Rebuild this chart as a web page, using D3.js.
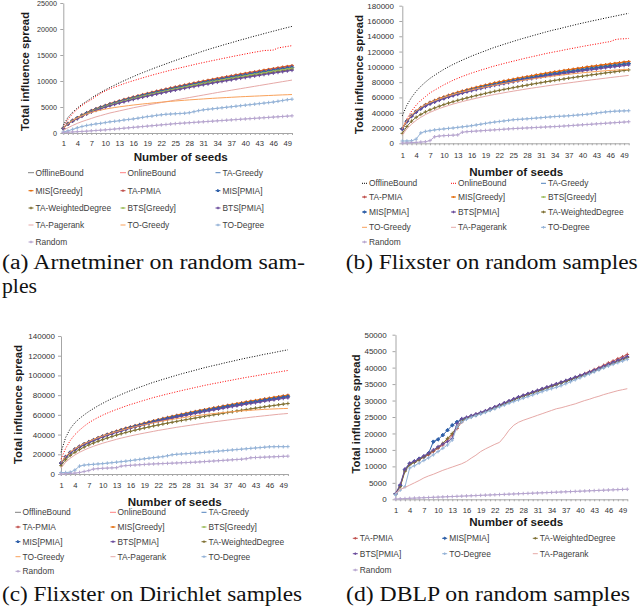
<!DOCTYPE html>
<html><head><meta charset="utf-8">
<script src="https://cdn.jsdelivr.net/npm/d3@7"></script>
<style>body{margin:0;background:#fff}svg{display:block}
.cap{font-family:"Liberation Serif","DejaVu Serif",serif;}</style>
</head><body>
<svg id="chart" width="640" height="607"></svg>
<script>
// ---------- categories & ticks ----------
const seeds = d3.range(1, 51);
const xTickLabels = [1,4,7,10,13,16,19,22,25,28,31,34,37,40,43,46,49];
const yTicksA = [0,5000,10000,15000,20000,25000];
const yTicksB = [0,20000,40000,60000,80000,100000,120000,140000,160000,180000];
const yTicksC = [0,20000,40000,60000,80000,100000,120000,140000];
const yTicksD = [0,5000,10000,15000,20000,25000,30000,35000,40000,45000,50000];
const captions = ["(a) Arnetminer on random sam-", "ples", "(b) Flixster on random samples", "(c) Flixster on Dirichlet samples", "(d) DBLP on random samples"];
const legendOrderA = ["OfflineBound","OnlineBound","TA-Greedy","MIS[Greedy]","TA-PMIA","MIS[PMIA]","TA-WeightedDegree","BTS[Greedy]","BTS[PMIA]","TA-Pagerank","TO-Greedy","TO-Degree","Random"];
const legendOrderBC = ["OfflineBound","OnlineBound","TA-Greedy","TA-PMIA","MIS[Greedy]","BTS[Greedy]","MIS[PMIA]","BTS[PMIA]","TA-WeightedDegree","TO-Greedy","TA-Pagerank","TO-Degree","Random"];
const legendOrderD = ["TA-PMIA","MIS[PMIA]","TA-WeightedDegree","BTS[PMIA]","TO-Degree","TA-Pagerank","Random"];

// ---------- (a) Arnetminer ----------
const a_OfflineBound = [1500,3000,4000,4800,5500,6100,6700,7300,7800,8300,8750,9200,9650,10050,10450,10850,11250,11600,11950,12300,12650,12970,13300,13630,13950,14260,14570,14870,15160,15450,15760,16050,16320,16580,16850,17120,17360,17630,17900,18120,18390,18640,18860,19110,19350,19580,19820,20050,20280,20500];
const a_OnlineBound = [1200,2600,3700,4600,5300,5900,6400,7050,7600,8100,8500,8840,9160,9480,9780,10060,10330,10600,10870,11120,11370,11610,11840,12080,12300,12520,12730,12940,13150,13360,13540,13740,13930,14110,14300,14480,14670,14850,15020,15200,15370,15540,15690,15860,15900,15950,16350,16500,16650,16800];
const a_TAGreedy = [900,1800,2400,2900,3400,3850,4250,4600,4930,5230,5550,5810,6080,6340,6580,6810,7050,7270,7480,7700,7920,8110,8310,8520,8710,8900,9090,9270,9450,9630,9800,9980,10150,10320,10480,10650,10800,10970,11130,11270,11440,11590,11730,11880,12040,12180,12330,12470,12610,12750];
const a_MISGreedy = [920,1840,2450,2960,3470,3930,4340,4690,5030,5330,5660,5930,6200,6470,6710,6950,7190,7420,7630,7850,8080,8270,8480,8690,8880,9080,9270,9460,9640,9820,10000,10180,10350,10530,10690,10860,11020,11190,11350,11500,11670,11820,11960,12120,12280,12420,12580,12720,12860,13000];
const a_TAPMIA = [910,1820,2430,2930,3440,3900,4300,4660,4990,5290,5620,5880,6150,6420,6660,6890,7130,7360,7570,7790,8020,8210,8410,8620,8810,9010,9200,9380,9560,9750,9920,10100,10270,10440,10610,10780,10930,11100,11260,11410,11580,11730,11870,12020,12180,12330,12480,12620,12760,12900];
const a_MISPMIA = [890,1780,2370,2870,3360,3800,4200,4540,4870,5170,5480,5740,6010,6260,6500,6730,6970,7180,7390,7610,7820,8010,8210,8420,8610,8790,8980,9160,9340,9510,9680,9860,10030,10200,10350,10520,10670,10840,11000,11130,11300,11450,11590,11740,11900,12030,12180,12320,12460,12600];
const a_TAWeightedDegree = [860,1730,2300,2780,3260,3700,4080,4420,4730,5020,5330,5580,5840,6090,6320,6540,6770,6980,7180,7390,7600,7790,7980,8180,8360,8540,8730,8900,9070,9240,9410,9580,9740,9910,10060,10220,10370,10530,10680,10820,10980,11130,11260,11400,11560,11690,11840,11970,12110,12250];
const a_BTSGreedy = [880,1760,2340,2830,3320,3760,4150,4490,4810,5100,5420,5670,5930,6190,6420,6650,6880,7100,7300,7520,7730,7920,8110,8320,8500,8690,8870,9050,9220,9400,9560,9740,9910,10070,10230,10390,10540,10710,10860,11000,11170,11310,11450,11590,11750,11890,12030,12170,12310,12450];
const a_BTSPMIA = [850,1700,2270,2740,3210,3640,4020,4350,4660,4940,5240,5490,5750,5990,6220,6440,6660,6870,7070,7280,7480,7660,7850,8050,8230,8410,8590,8760,8930,9100,9260,9430,9590,9750,9900,10060,10210,10370,10520,10650,10810,10950,11080,11230,11380,11510,11650,11780,11920,12050];
const a_TAPagerank = [500,1000,1450,1850,2200,2500,2800,3100,3350,3600,3850,4050,4250,4450,4650,4850,5030,5200,5370,5540,5700,5860,6020,6180,6340,6500,6660,6820,6980,7140,7300,7460,7620,7780,7930,8080,8230,8380,8530,8680,8830,8980,9130,9280,9430,9580,9730,9880,10030,10180];
const a_TOGreedy = [900,1800,2400,2900,3300,3650,3950,4200,4400,4600,4750,4900,5030,5150,5270,5380,5480,5580,5670,5760,5850,5930,6010,6090,6160,6230,6300,6370,6430,6490,6550,6610,6670,6720,6770,6820,6870,6920,6970,7010,7050,7090,7130,7170,7210,7250,7290,7330,7360,7400];
const a_TODegree = [200,400,700,1000,1250,1450,1600,1750,1850,2000,2150,2250,2350,2500,2600,2700,2850,3000,3150,3250,3400,3500,3600,3650,3700,3750,3800,3900,4100,4300,4450,4550,4650,4750,4850,4950,5050,5150,5250,5350,5450,5550,5650,5750,5850,5950,6100,6250,6400,6500];
const a_Random = [100,150,200,250,300,350,420,480,540,600,680,760,840,920,1000,1080,1160,1240,1320,1400,1480,1560,1640,1720,1800,1860,1920,1980,2040,2100,2160,2220,2280,2340,2400,2460,2520,2580,2640,2700,2760,2820,2880,2940,3000,3060,3120,3180,3240,3300];

// ---------- (b) Flixster random ----------
const b_OfflineBound = [36000,50000,60000,68000,74500,80000,85000,89000,93000,96700,100100,103200,106100,108800,111500,114100,116500,118800,121000,123400,125600,127500,129500,131400,133300,135200,137000,138700,140400,142100,143800,145500,147100,148600,149900,151500,153000,154400,155900,157300,158600,160000,161200,162500,163900,165100,166300,167600,168800,170000];
const b_OnlineBound = [20000,32000,42000,50000,56000,61000,66000,69500,73000,76500,79500,82500,85000,87500,89700,91900,93800,95800,97500,99500,101200,102800,104400,105900,107400,108900,110400,111800,113200,114500,115900,117300,118500,119700,120800,122100,123300,124400,125600,126700,127800,128900,129900,131000,132100,133000,135500,136500,136700,137200];
const b_TAGreedy = [19000,29000,36000,41500,46000,49800,52700,55200,57600,59700,61800,63700,65500,67200,68900,70500,71900,73400,74800,76200,77600,78800,80000,81200,82300,83500,84600,85700,86700,87800,88800,89900,90800,91800,92600,93600,94500,95300,96300,97100,98000,98800,99500,100400,101200,102000,102700,103500,104300,105000];
const b_TAPMIA = [19300,29400,36500,42100,46700,50500,53500,56000,58500,60600,62700,64700,66500,68200,69900,71600,73000,74500,75900,77300,78800,80000,81200,82400,83500,84800,85900,87000,88000,89100,90100,91200,92200,93200,94000,95000,95900,96700,97700,98600,99500,100300,101000,101900,102700,103500,104200,105100,105900,106600];
const b_MISGreedy = [19400,29600,36700,42300,46900,50800,53800,56300,58800,60900,63000,65000,66800,68500,70300,71900,73300,74900,76300,77700,79200,80400,81600,82800,83900,85200,86300,87400,88400,89600,90600,91700,92600,93600,94500,95500,96400,97200,98200,99000,100000,100800,101500,102400,103200,104000,104800,105600,106400,107100];
const b_BTSGreedy = [18900,28900,35800,41300,45800,49600,52400,54900,57300,59400,61500,63400,65200,66900,68600,70100,71500,73000,74400,75800,77200,78400,79600,80800,81900,83100,84200,85300,86300,87400,88400,89500,90300,91300,92100,93100,94000,94800,95800,96600,97500,98300,99000,99900,100700,101500,102200,103000,103800,104500];
const b_MISPMIA = [18800,28700,35600,41100,45500,49300,52200,54600,57000,59100,61200,63100,64800,66500,68200,69800,71200,72700,74100,75400,76800,78000,79200,80400,81500,82700,83800,84800,85800,86900,87900,89000,89900,90900,91700,92700,93600,94300,95300,96100,97000,97800,98500,99400,100200,101000,101700,102500,103300,104000];
const b_BTSPMIA = [18500,28300,35100,40500,44900,48600,51400,53800,56200,58200,60300,62100,63900,65500,67200,68700,70100,71600,72900,74300,75700,76800,78000,79200,80200,81400,82500,83600,84500,85600,86600,87700,88500,89500,90300,91300,92100,92900,93900,94700,95600,96300,97000,97900,98700,99500,100100,100900,101700,102400];
const b_TAWeightedDegree = [13000,22000,29000,34000,37800,41000,43800,46200,48500,50600,52600,54400,56200,57800,59400,61000,62400,63800,65300,66600,68000,69200,70500,71600,72800,73900,75100,76100,77300,78300,79300,80400,81300,82300,83200,84200,85200,86000,87000,87800,88700,89600,90300,91200,92100,92800,93600,94500,95200,96000];
const b_TOGreedy = [19000,29500,37000,42500,47000,50500,53300,55700,58000,60000,62000,63800,65500,67000,68500,69900,71200,72500,73700,74900,76100,77200,78300,79300,80300,81300,82300,83200,84100,85000,85800,86600,87400,88200,88900,89600,90300,91000,91600,92200,92800,93400,93900,94400,94900,95300,95700,96100,96500,96800];
const b_TAPagerank = [11000,19000,25000,30000,34000,37500,40500,43000,45500,47500,49500,51300,53000,54600,56100,57500,58900,60200,61500,62700,63900,65000,66100,67200,68200,69200,70200,71200,72100,73000,73900,74800,75700,76500,77400,78200,79000,79800,80600,81400,82200,83000,83700,84500,85200,86000,86700,87400,88100,88800];
const b_TODegree = [3000,3000,3200,5500,13500,15500,16500,17500,18200,18800,19500,20000,20800,21500,22200,23000,24000,25000,26000,27000,27800,28500,29200,30000,30800,31200,31600,32000,32500,33000,33500,34000,34500,35000,35300,35600,36000,36500,37000,37500,38000,38700,39500,40300,41000,41500,42000,42200,42400,42600];
const b_Random = [300,600,900,1200,1600,2000,3500,8500,9500,10000,10300,10600,11000,14500,15200,15600,16000,16400,16800,17200,17600,18000,18400,18800,19200,19500,19800,20100,20400,20700,21000,21300,21600,21900,22200,22600,23000,23400,23800,24200,24600,25000,25400,25800,26200,26600,27000,27400,27800,28200];

// ---------- (c) Flixster Dirichlet ----------
const c_OfflineBound = [22000,37000,46000,52000,56300,60000,63400,66300,69200,71700,74200,76500,78600,80600,82700,84500,86300,88100,89700,91500,93100,94500,96000,97400,98800,100200,101600,102800,104100,105300,106600,107900,109000,110100,111100,112300,113400,114400,115500,116600,117600,118600,119400,120500,121500,122300,123200,124200,125100,126000];
const c_OnlineBound = [15000,26000,34000,40000,44500,48500,52000,54800,57400,59700,61800,63700,65500,67200,68900,70500,71900,73400,74800,76200,77600,78800,80000,81200,82300,83500,84600,85700,86700,87800,88800,89900,90800,91800,92600,93600,94500,95300,96300,97100,98000,98800,99500,100400,101200,102000,102700,103500,104300,105000];
const c_TAGreedy = [11000,17500,21800,25000,27800,30300,32500,34500,36400,38200,39900,41500,43000,44500,45900,47200,48500,49700,51000,52200,53400,54500,55600,56700,57700,58800,59800,60700,61800,62700,63600,64500,65400,66300,67100,68000,68900,69700,70500,71400,72200,73000,73700,74500,75300,76000,76700,77500,78200,78900];
const c_TAPMIA = [11100,17700,22000,25300,28100,30600,32800,34800,36800,38600,40300,41900,43400,44900,46400,47700,49000,50200,51500,52700,53900,55000,56200,57300,58300,59400,60400,61300,62400,63300,64200,65100,66100,67000,67800,68700,69600,70400,71200,72100,72900,73700,74400,75200,76100,76800,77500,78300,79000,79700];
const c_MISGreedy = [11200,17800,22100,25400,28200,30800,33000,35000,36900,38800,40500,42100,43600,45200,46600,47900,49200,50400,51800,53000,54200,55300,56400,57600,58600,59700,60700,61600,62700,63600,64600,65500,66400,67300,68100,69000,69900,70700,71600,72500,73300,74100,74800,75600,76400,77100,77900,78700,79400,80100];
const c_BTSGreedy = [10900,17300,21600,24800,27500,30000,32200,34200,36000,37800,39500,41100,42600,44100,45400,46700,48000,49200,50500,51700,52900,54000,55000,56100,57100,58200,59200,60100,61200,62100,63000,63900,64700,65600,66400,67300,68200,69000,69800,70700,71500,72300,73000,73800,74500,75200,75900,76700,77400,78100];
const c_MISPMIA = [10900,17400,21700,24900,27700,30100,32300,34300,36200,38000,39700,41300,42800,44300,45700,47000,48300,49500,50700,51900,53100,54200,55300,56400,57400,58500,59500,60400,61500,62400,63300,64200,65100,66000,66800,67700,68600,69400,70100,71000,71800,72600,73300,74100,74900,75600,76300,77100,77800,78500];
const c_BTSPMIA = [10800,17200,21400,24500,27200,29700,31900,33800,35700,37400,39100,40700,42100,43600,45000,46300,47500,48700,50000,51200,52300,53400,54500,55600,56500,57600,58600,59500,60600,61400,62300,63200,64100,65000,65800,66600,67500,68300,69100,70000,70800,71500,72200,73000,73800,74500,75200,76000,76600,77300];
const c_TAWeightedDegree = [8500,14500,18800,22000,24800,27300,29500,31400,33200,34900,36500,38000,39500,40800,42100,43300,44500,45600,46700,47700,48800,49700,50700,51600,52500,53400,54300,55100,56000,56800,57600,58500,59300,60100,60800,61600,62400,63100,63900,64700,65400,66100,66800,67500,68200,68900,69500,70200,70900,71500];
const c_TOGreedy = [11500,18000,22300,25500,28300,30800,33000,35000,36800,38500,40100,41600,43000,44300,45600,46800,47900,49000,50000,51000,52000,52900,53800,54600,55400,56200,56900,57600,58300,59000,59600,60200,60800,61300,61800,62300,62800,63200,63600,64000,64400,64700,65000,65300,65600,65800,66000,66200,66400,66500];
const c_TAPagerank = [6000,12000,16000,19300,22000,24300,26300,28100,29700,31200,32600,33900,35200,36400,37500,38600,39600,40600,41500,42400,43300,44200,45000,45800,46600,47400,48100,48800,49500,50200,50900,51600,52200,52900,53500,54100,54700,55300,55900,56500,57000,57600,58100,58600,59100,59600,60100,60600,61000,61400];
const c_TODegree = [1500,1500,1800,4000,8000,9000,9500,9800,10200,10500,11000,11500,12000,12500,13000,13600,14200,14800,15400,16000,16600,17100,17600,18500,19500,20000,20300,20600,20900,21200,21600,22000,22400,22800,23200,23600,24000,24400,24800,25200,25600,26000,26400,26800,27200,27600,27700,27800,27700,27800];
const c_Random = [0,300,600,900,1500,2500,3500,5000,5500,5800,6000,6200,6400,8000,8500,8800,9100,9400,9700,10000,10200,10400,10600,10800,11000,11200,11400,11600,11800,12000,12300,12600,12900,13200,13500,13800,14100,14400,14700,15000,15500,16500,16700,16900,17100,17300,17500,17700,17900,18100];

// ---------- (d) DBLP ----------
const d_TAPMIA = [1700,4000,8800,10700,11300,12000,12800,13500,14500,15500,16500,18000,19500,21500,23500,24800,25300,25800,26300,26800,27400,28000,28600,29200,29800,30400,31000,31500,32000,32500,33000,33500,34000,34500,35000,35500,36000,36500,37000,37600,38200,38800,39400,40000,40700,41400,42000,42700,43300,44000];
const d_MISPMIA = [1600,4200,9000,10800,11500,12300,13000,14000,17500,18200,19500,21000,22500,23500,24300,24700,25200,25700,26200,26700,27300,27900,28500,29100,29700,30300,30900,31400,31900,32400,32900,33400,33900,34400,34900,35400,35900,36400,36900,37400,37900,38400,39000,39600,40200,40800,41400,42000,42600,43200];
const d_TAWeightedDegree = [1600,3800,8500,10500,11200,12000,12900,13800,14800,15800,17000,18500,20000,22000,23800,24600,25100,25600,26100,26600,27200,27800,28400,29000,29600,30200,30800,31300,31800,32300,32800,33300,33800,34300,34800,35300,35800,36300,36800,37300,37800,38300,38900,39500,40100,40700,41300,41900,42500,43100];
const d_BTSPMIA = [1700,4500,9200,11000,11600,12400,13200,14000,15000,16000,16800,17500,18500,23000,24500,24900,25400,25900,26400,26900,27500,28100,28700,29300,29900,30500,31100,31600,32100,32600,33100,33600,34100,34600,35100,35600,36100,36600,37100,37600,38100,38600,39200,39800,40400,41000,41600,42200,42800,43400];
const d_TODegree = [1500,2800,3800,9500,10200,11000,11800,12600,13500,14500,15500,16500,18000,22000,23500,24300,24900,25400,25900,26400,27000,27500,28100,28600,29200,29700,30200,30700,31200,31700,32200,32700,33200,33600,34000,34500,35100,35700,36300,36900,37500,38100,38700,39300,39900,40500,41000,41500,42000,42500];
const d_TAPagerank = [1800,3000,3600,4300,5000,5700,6500,7100,7600,8200,8800,9300,9800,10300,10800,11500,12500,13400,14500,15300,16000,16700,17300,19000,21000,22500,23400,24000,24500,25000,25500,26000,26500,27000,27500,27800,28200,28600,29000,29500,30000,30400,30900,31300,31800,32200,32600,33000,33300,33600];
const d_Random = [100,150,220,300,360,420,480,540,600,660,720,780,840,900,960,1020,1080,1140,1200,1260,1320,1380,1440,1500,1560,1620,1680,1740,1800,1860,1920,1980,2040,2100,2160,2220,2280,2340,2400,2460,2520,2580,2640,2700,2760,2820,2880,2940,3000,3050];

// ---------- styles ----------
const styles = {
  "OfflineBound":      {color:"#000000", dash:"1,1.6", marker:null},
  "OnlineBound":       {color:"#ff0000", dash:"1,1.6", marker:null},
  "TA-Greedy":         {color:"#4F81BD", marker:null},
  "MIS[Greedy]":       {color:"#E46C0A", marker:"dash"},
  "TA-PMIA":           {color:"#C0504D", marker:"plus"},
  "MIS[PMIA]":         {color:"#2E5FA8", marker:"diamond"},
  "TA-WeightedDegree": {color:"#7F7033", marker:"plus"},
  "BTS[Greedy]":       {color:"#9BBB59", marker:"dash"},
  "BTS[PMIA]":         {color:"#6A4C9C", marker:"plus"},
  "TA-Pagerank":       {color:"#E6A9A7", marker:null},
  "TO-Greedy":         {color:"#F9A15A", marker:null},
  "TO-Degree":         {color:"#95B3D7", marker:"plus"},
  "Random":            {color:"#B7A6CF", marker:"plus"}
};

function markerPath(type, cx, cy, r) {
  if (type === "plus") return `M${cx-r},${cy}H${cx+r}M${cx},${cy-r}V${cy+r}`;
  if (type === "dash") return `M${cx-r},${cy}H${cx+r}M${cx},${cy-r*0.6}V${cy+r*0.6}`;
  if (type === "diamond") return `M${cx},${cy-r}L${cx+r},${cy}L${cx},${cy+r}L${cx-r},${cy}Z`;
  return "";
}

const svg = d3.select("#chart");
const FONT = "Liberation Sans, Arial, sans-serif";

function drawPanel(cfg) {
  const g = svg.append("g");
  const x = d3.scaleLinear().domain([1, 50]).range([cfg.xFirst, cfg.xLast]);
  const y = d3.scaleLinear().domain([0, cfg.yMax]).range([cfg.yZero, cfg.yTop]);

  const yAxis = d3.axisLeft(y).tickValues(cfg.yTicks).tickSize(3).tickSizeOuter(0)
    .tickPadding(cfg.yPad).tickFormat(d3.format("d"));
  const ya = g.append("g").attr("transform", `translate(${cfg.xFirst},0)`).call(yAxis);
  const xAxis = d3.axisBottom(x).tickValues(seeds).tickSize(2).tickSizeOuter(0)
    .tickPadding(cfg.xPad).tickFormat(d => xTickLabels.includes(d) ? d : "");
  const xa = g.append("g").attr("transform", `translate(0,${cfg.yZero})`).call(xAxis);
  [ya, xa].forEach(a => {
    a.select(".domain").attr("stroke", "#a6a6a6").attr("stroke-width", 1);
    a.selectAll(".tick line").attr("stroke", "#a6a6a6");
    a.selectAll(".tick text").attr("fill", "#333").attr("font-family", FONT);
  });
  ya.selectAll(".tick text").attr("font-size", cfg.yFont);
  xa.selectAll(".tick text").attr("font-size", cfg.xFont);

  const line = d3.line().x((d, i) => x(seeds[i])).y(d => y(d));
  cfg.series.forEach(s => {
    const st = styles[s.name];
    g.append("path").attr("d", line(s.values)).attr("fill", "none")
      .attr("stroke", st.color).attr("stroke-width", 1)
      .attr("stroke-dasharray", st.dash || null);
    if (st.marker) {
      g.append("path").attr("d", s.values.map((v, i) => markerPath(st.marker, x(seeds[i]), y(v), 1.8)).join(""))
        .attr("fill", st.marker === "diamond" ? st.color : "none")
        .attr("stroke", st.color).attr("stroke-width", 1);
    }
  });

  // axis titles
  g.append("text").attr("x", cfg.xTitle[0]).attr("y", cfg.xTitle[1]).attr("text-anchor", "middle")
    .attr("font-family", FONT).attr("font-weight", "bold").attr("font-size", 11.6).attr("fill", "#1a1a1a")
    .text("Number of seeds");
  g.append("text").attr("transform", `translate(${cfg.yTitle[0]},${cfg.yTitle[1]}) rotate(-90)`)
    .attr("text-anchor", "middle").attr("dy", "0.35em")
    .attr("font-family", FONT).attr("font-weight", "bold").attr("font-size", 11.3).attr("fill", "#1a1a1a")
    .text("Total influence spread");

  // legend
  cfg.legendOrder.forEach((name, i) => {
    const st = styles[name];
    const cx = cfg.legendCols[i % 3], cy = cfg.legendRows[Math.floor(i / 3)];
    g.append("path").attr("d", `M${cx-2.5},${cy}H${cx+2.5}`).attr("stroke", st.color)
      .attr("stroke-width", 1).attr("stroke-dasharray", st.dash ? "1,1" : null);
    if (st.marker) g.append("path").attr("d", markerPath(st.marker, cx, cy, 1.3))
      .attr("fill", st.marker === "diamond" ? st.color : "none").attr("stroke", st.color).attr("stroke-width", 1);
    g.append("text").attr("x", cx + 4.5).attr("y", cy).attr("dy", "0.35em")
      .attr("font-family", FONT).attr("font-size", 8.4).attr("fill", "#404040").text(name);
  });
}

const mk = (names, arrays) => names.map((n, i) => ({name: n, values: arrays[i]}));

drawPanel({
  xFirst: 63.3, xLast: 292, yZero: 133, yTop: 3, yMax: 25000, yTicks: yTicksA,
  yPad: 3.4, xPad: 6, yFont: 7.2, xFont: 7.6,
  xTitle: [180.7, 161], yTitle: [25, 71.5],
  legendOrder: legendOrderA, legendCols: [31, 123, 218], legendRows: [172.7, 190.7, 208, 225, 242],
  series: mk(legendOrderA, [a_OfflineBound, a_OnlineBound, a_TAGreedy, a_MISGreedy, a_TAPMIA, a_MISPMIA,
    a_TAWeightedDegree, a_BTSGreedy, a_BTSPMIA, a_TAPagerank, a_TOGreedy, a_TODegree, a_Random])
});
drawPanel({
  xFirst: 402.3, xLast: 628.7, yZero: 143.3, yTop: 5.7, yMax: 180000, yTicks: yTicksB,
  yPad: 5.3, xPad: 7.4, yFont: 8, xFont: 7.6,
  xTitle: [516.3, 175.5], yTitle: [359.3, 74.5],
  legendOrder: legendOrderBC, legendCols: [364.5, 453.5, 543.5], legendRows: [183.3, 197, 212, 227.3, 242],
  series: mk(legendOrderBC, [b_OfflineBound, b_OnlineBound, b_TAGreedy, b_TAPMIA, b_MISGreedy, b_BTSGreedy,
    b_MISPMIA, b_BTSPMIA, b_TAWeightedDegree, b_TOGreedy, b_TAPagerank, b_TODegree, b_Random])
});
drawPanel({
  xFirst: 61, xLast: 287.9, yZero: 474, yTop: 336, yMax: 140000, yTicks: yTicksC,
  yPad: 3, xPad: 6.6, yFont: 8, xFont: 7.6,
  xTitle: [174.7, 505.5], yTitle: [18.5, 404.5],
  legendOrder: legendOrderBC, legendCols: [18, 113, 204], legendRows: [512.3, 527, 541.7, 556.7, 571.3],
  series: mk(legendOrderBC, [c_OfflineBound, c_OnlineBound, c_TAGreedy, c_TAPMIA, c_MISGreedy, c_BTSGreedy,
    c_MISPMIA, c_BTSPMIA, c_TAWeightedDegree, c_TOGreedy, c_TAPagerank, c_TODegree, c_Random])
});
drawPanel({
  xFirst: 395.5, xLast: 627.3, yZero: 499.3, yTop: 334.7, yMax: 50000, yTicks: yTicksD,
  yPad: 5.8, xPad: 6.3, yFont: 8, xFont: 7.6,
  xTitle: [516.3, 526], yTitle: [356, 414],
  legendOrder: legendOrderD, legendCols: [355.3, 444.7, 535.3], legendRows: [538.3, 553.7, 570],
  series: mk(legendOrderD, [d_TAPMIA, d_MISPMIA, d_TAWeightedDegree, d_BTSPMIA, d_TODegree, d_TAPagerank, d_Random])
});

// captions
const capPos = [[2, 269, 303], [2, 293, 35], [345.7, 269, 292], [2, 601, 300], [346, 601, 284]];
captions.forEach((t, i) => {
  svg.append("text").attr("class", "cap").attr("x", capPos[i][0]).attr("y", capPos[i][1])
    .attr("font-size", 20).attr("fill", "#111")
    .attr("textLength", capPos[i][2]).attr("lengthAdjust", "spacingAndGlyphs").text(t);
});
</script>
</body></html>
